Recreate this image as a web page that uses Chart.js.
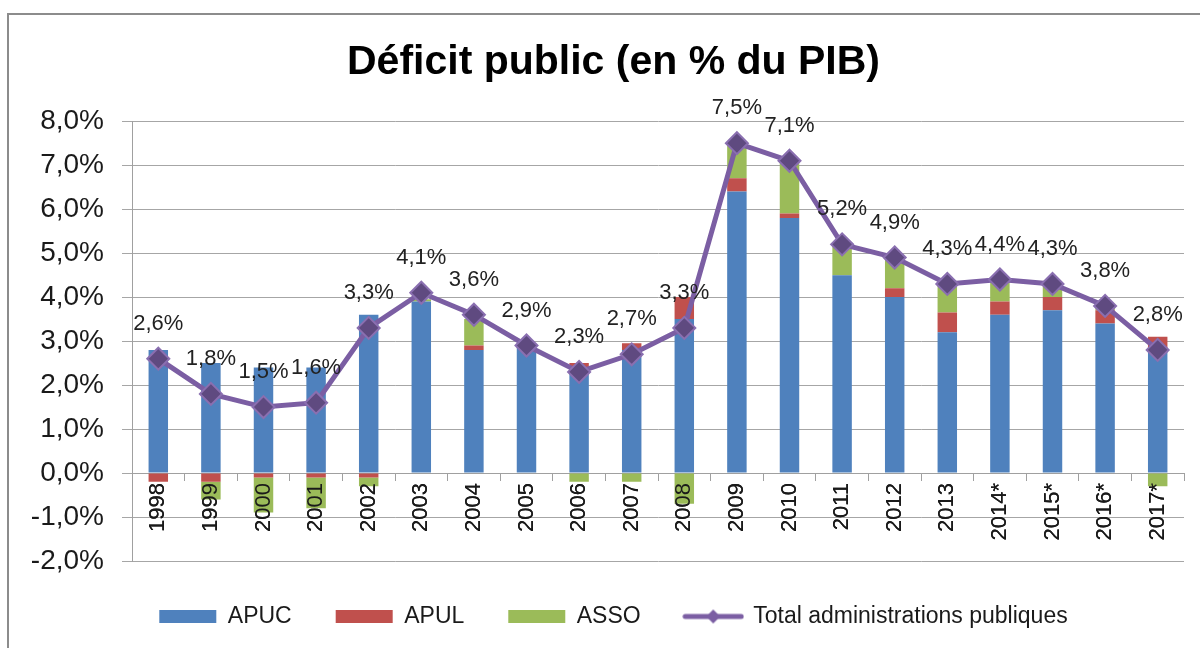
<!DOCTYPE html>
<html>
<head>
<meta charset="utf-8">
<script src="https://cdn.jsdelivr.net/npm/chart.js@4"></script>
<style>
  body { margin: 0; background: #fff; overflow: hidden; }
  #frame { position: absolute; left: 7px; top: 13px; width: 1300px; height: 800px; border: 2px solid #8c8c8c; }
  #wrap { position: absolute; left: 0; top: 0; width: 1200px; height: 648px; }
</style>
</head>
<body>
<div id="frame"></div>
<div id="wrap"><canvas id="deficitChart" width="1200" height="648"></canvas></div>
<script>
// Déficit public (en % du PIB), par sous-secteur
var years = ['1998', '1999', '2000', '2001', '2002', '2003', '2004', '2005', '2006', '2007',
             '2008', '2009', '2010', '2011', '2012', '2013', '2014*', '2015*', '2016*', '2017*'];
var apuc  = [2.8, 2.5, 2.4, 2.4, 3.6, 3.9, 2.8, 2.9, 2.4, 2.8, 3.5, 6.4, 5.8, 4.5, 4.0, 3.2, 3.6, 3.7, 3.4, 2.8];
var apul  = [-0.2, -0.2, -0.1, -0.1, -0.1, 0.0, 0.1, 0.05, 0.1, 0.15, 0.5, 0.3, 0.1, 0.0, 0.2, 0.45, 0.3, 0.3, 0.3, 0.3];
var asso  = [0.0, -0.4, -0.8, -0.7, -0.2, 0.05, 0.6, 0.0, -0.2, -0.2, -0.7, 0.8, 1.2, 0.7, 0.7, 0.65, 0.5, 0.3, 0.1, -0.3];
var total = [2.6, 1.8, 1.5, 1.6, 3.3, 4.1, 3.6, 2.9, 2.3, 2.7, 3.3, 7.5, 7.1, 5.2, 4.9, 4.3, 4.4, 4.3, 3.8, 2.8];

var FONT = "'Liberation Sans', Arial, sans-serif";
var lineColor = '#7b5ea3';
var markerFill = '#5f4a80';

function pct(v) {
    return v.toFixed(1).replace('.', ',') + '%';
}

// legend symbol for the line series: line with a diamond
var lineIcon = document.createElement('canvas');
lineIcon.width = 62;
lineIcon.height = 18;
(function () {
    var c = lineIcon.getContext('2d');
    c.strokeStyle = lineColor;
    c.lineWidth = 5;
    c.lineCap = 'round';
    c.beginPath();
    c.moveTo(3, 9);
    c.lineTo(59, 9);
    c.stroke();
    c.fillStyle = lineColor;
    c.beginPath();
    c.moveTo(31, 2);
    c.lineTo(38, 9);
    c.lineTo(31, 16);
    c.lineTo(24, 9);
    c.closePath();
    c.fill();
})();

// category labels sit on top of the bars, then the value labels of the total
var overlay = {
    id: 'overlay',
    afterDatasetsDraw: function (chart) {
        var ctx = chart.ctx;
        ctx.save();
        chart.scales.x.drawLabels(chart.chartArea);
        ctx.restore();

        var meta = chart.getDatasetMeta(3);
        ctx.save();
        ctx.font = '22px ' + FONT;
        ctx.fillStyle = '#222';
        ctx.textAlign = 'center';
        ctx.textBaseline = 'middle';
        meta.data.forEach(function (pt, i) {
            ctx.fillText(pct(total[i]), pt.x, pt.y - 35);
        });
        ctx.restore();
    }
};

var ctx = document.getElementById('deficitChart').getContext('2d');
var myChart = new Chart(ctx, {
    type: 'bar',
    data: {
        labels: years,
        datasets: [{
            label: 'APUC',
            data: apuc,
            backgroundColor: '#4f81bd',
            stack: 'bars',
            order: 1
        }, {
            label: 'APUL',
            data: apul,
            backgroundColor: '#c0504d',
            stack: 'bars',
            order: 1
        }, {
            label: 'ASSO',
            data: asso,
            backgroundColor: '#9bbb59',
            stack: 'bars',
            order: 1
        }, {
            type: 'line',
            label: 'Total administrations publiques',
            data: total,
            stack: 'line',
            order: 0,
            borderColor: lineColor,
            borderWidth: 5,
            tension: 0,
            pointStyle: 'rectRot',
            pointRadius: 11,
            pointBackgroundColor: markerFill,
            pointBorderColor: '#8a6fb0',
            pointBorderWidth: 2
        }]
    },
    options: {
        responsive: false,
        animation: false,
        datasets: {
            bar: { barPercentage: 0.37, categoryPercentage: 1 }
        },
        layout: {
            padding: { left: 31, right: 4, top: 0, bottom: 10 }
        },
        plugins: {
            tooltip: { enabled: false },
            title: {
                display: true,
                text: 'Déficit public (en % du PIB)',
                color: '#000',
                font: { family: FONT, size: 41, weight: 'bold' },
                padding: { top: 38, bottom: 34 }
            },
            legend: {
                position: 'bottom',
                labels: {
                    color: '#1a1a1a',
                    font: { family: FONT, size: 23 },
                    usePointStyle: true,
                    pointStyleWidth: 57,
                    boxHeight: 13,
                    padding: 44,
                    sort: function (a, b) { return a.datasetIndex - b.datasetIndex; },
                    generateLabels: function (chart) {
                        var items = Chart.defaults.plugins.legend.labels.generateLabels(chart);
                        items.forEach(function (it) {
                            if (it.datasetIndex === 3) {
                                it.pointStyle = lineIcon;
                            } else {
                                it.pointStyle = 'rect';
                                it.lineWidth = 0;
                                it.strokeStyle = 'rgba(0,0,0,0)';
                            }
                        });
                        return items;
                    }
                }
            }
        },
        scales: {
            x: {
                position: { y: 0 },
                stacked: true,
                grid: {
                    display: true,
                    drawOnChartArea: false,
                    tickLength: 7,
                    color: '#a0a0a0'
                },
                border: { display: true, color: '#a0a0a0' },
                ticks: {
                    autoSkip: false,
                    minRotation: 90,
                    maxRotation: 90,
                    padding: 3,
                    color: '#1a1a1a',
                    font: { family: FONT, size: 22 }
                }
            },
            y: {
                stacked: true,
                min: -2,
                max: 8,
                afterFit: function (scale) { scale.width = 101; },
                grid: {
                    color: '#a6a6a6',
                    tickLength: 10
                },
                border: { display: true, color: '#a0a0a0' },
                ticks: {
                    stepSize: 1,
                    padding: 18,
                    color: '#1a1a1a',
                    font: { family: FONT, size: 28 },
                    callback: function (v) { return pct(v); }
                }
            },
            // empty strip on the right, keeps the plot edge where the original has it
            yRight: {
                type: 'linear',
                position: 'right',
                display: true,
                grid: { display: false },
                border: { display: false },
                ticks: { display: false },
                afterFit: function (scale) { scale.width = 12; }
            }
        }
    },
    plugins: [overlay]
});
</script>
</body>
</html>
